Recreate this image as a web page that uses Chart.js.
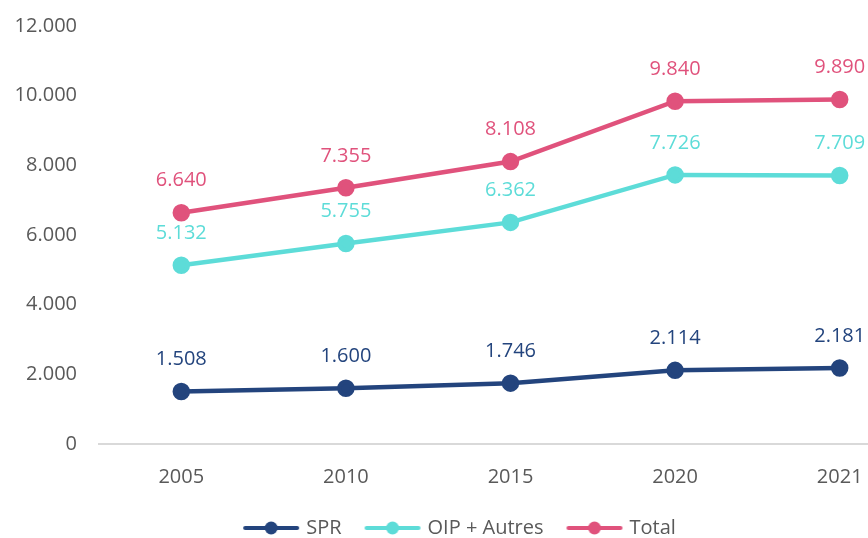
<!DOCTYPE html>
<html>
<head>
<meta charset="utf-8">
<script src="https://cdn.jsdelivr.net/npm/chart.js@4"></script>
<style>
  html, body { margin: 0; padding: 0; background: #fff; overflow: hidden; }
  #wrap { width: 950px; height: 548px; }
</style>
</head>
<body>
<div id="wrap"><canvas id="myChart"></canvas></div>
<script>
const years = ['2005', '2010', '2015', '2020', '2021'];
const spr = [1508, 1600, 1746, 2114, 2181];
const oip = [5132, 5755, 6362, 7726, 7709];
const total = [6640, 7355, 8108, 9840, 9890];

const navy = '#23447D';
const turq = '#5DDCD8';
const pink = '#E0527C';
const grey = '#595959';
const font = "'Open Sans', sans-serif";

// 1.508 style thousands
function fmt(v) {
    return String(v).replace(/\B(?=(\d{3})+(?!\d))/g, '.');
}

// legend symbol: line with a dot in the middle
function legendIcon(color) {
    const c = document.createElement('canvas');
    c.width = 58;
    c.height = 16;
    const g = c.getContext('2d');
    g.strokeStyle = color;
    g.lineWidth = 4;
    g.lineCap = 'round';
    g.beginPath();
    g.moveTo(3, 8);
    g.lineTo(55, 8);
    g.stroke();
    g.fillStyle = color;
    g.beginPath();
    g.arc(29, 8, 6.5, 0, Math.PI * 2);
    g.fill();
    return c;
}

const valueLabels = {
    id: 'valueLabels',
    afterDatasetsDraw(chart) {
        const ctx = chart.ctx;
        ctx.save();
        ctx.font = '20px ' + font;
        ctx.textAlign = 'center';
        ctx.textBaseline = 'middle';
        chart.data.datasets.forEach((ds, i) => {
            chart.getDatasetMeta(i).data.forEach((pt, j) => {
                ctx.fillStyle = ds.borderColor;
                ctx.fillText(fmt(ds.data[j]), pt.x, pt.y - 32);
            });
        });
        ctx.restore();
    }
};

function series(label, data, color) {
    return {
        label,
        data,
        borderColor: color,
        backgroundColor: color,
        borderWidth: 4.5,
        pointRadius: 6.5,
        pointHoverRadius: 6.5,
        pointStyle: 'circle',
        tension: 0,
    };
}

const data = {
    labels: years,
    datasets: [
        series('SPR', spr, navy),
        series('OIP + Autres', oip, turq),
        series('Total', total, pink),
    ],
};

const config = {
    type: 'line',
    data: data,
    options: {
        responsive: true,
        maintainAspectRatio: false,
        animation: false,
        layout: { padding: { left: 0, right: 28, top: 26, bottom: 0 } },
        plugins: {
            legend: {
                position: 'bottom',
                labels: {
                    usePointStyle: true,
                    pointStyleWidth: 50,
                    padding: 26,
                    color: grey,
                    font: { family: font, size: 20 },
                    generateLabels(chart) {
                        return Chart.defaults.plugins.legend.labels.generateLabels(chart).map(l => {
                            l.pointStyle = legendIcon(chart.data.datasets[l.datasetIndex].borderColor);
                            return l;
                        });
                    },
                },
            },
            tooltip: { enabled: false },
        },
        scales: {
            x: {
                offset: true,
                afterFit(scale) { scale.height -= 18; },
                grid: { display: false, drawTicks: false },
                border: { color: '#D9D9D9', width: 2 },
                ticks: { color: grey, padding: 21, font: { family: font, size: 20 } },
            },
            y: {
                min: 0,
                max: 12000,
                afterFit(scale) {
                    scale.width = 99;
                    scale.paddingTop = 0;
                    scale.paddingBottom = 0;
                },
                grid: { display: false, drawTicks: false },
                border: { display: false },
                ticks: {
                    stepSize: 2000,
                    color: grey,
                    padding: 22,
                    font: { family: font, size: 20 },
                    callback: v => fmt(v),
                },
            },
        },
    },
    plugins: [valueLabels],
};

const myChart = new Chart(document.getElementById('myChart'), config);
</script>
</body>
</html>
